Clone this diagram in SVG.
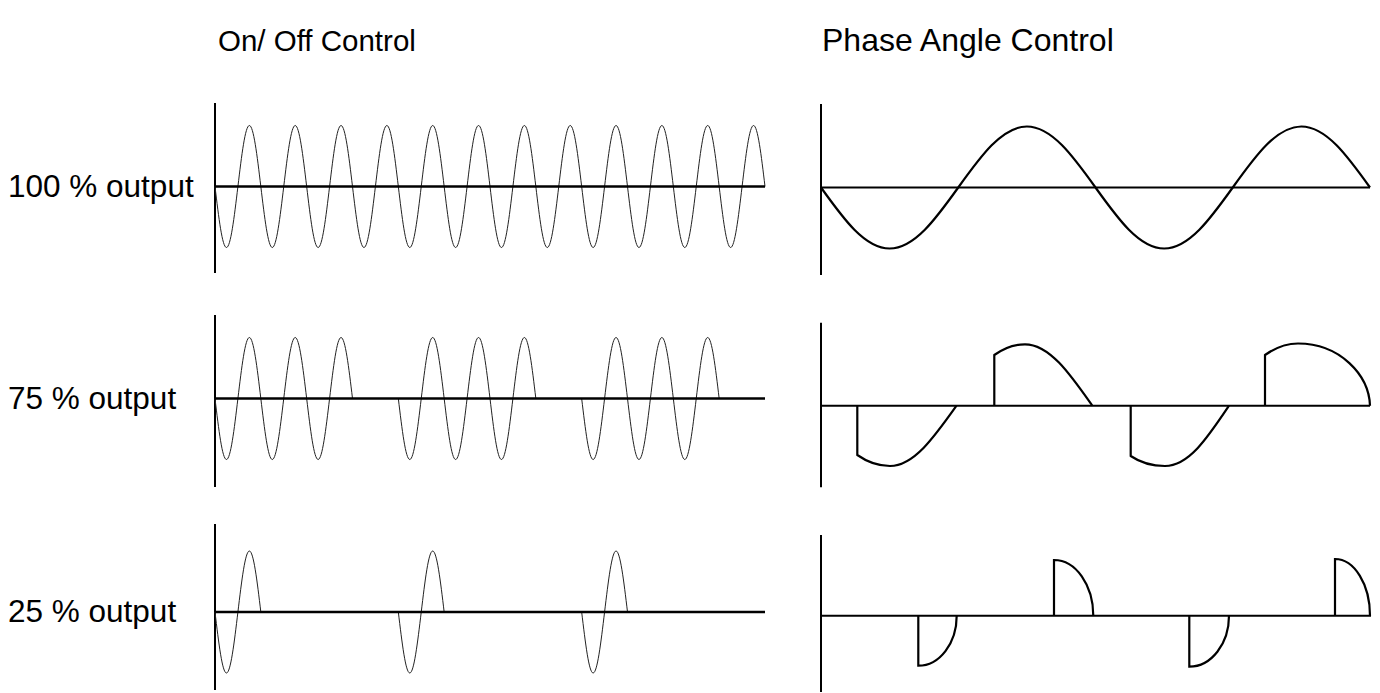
<svg xmlns="http://www.w3.org/2000/svg" xmlns:xlink="http://www.w3.org/1999/xlink" width="1380" height="693" viewBox="0 0 1380 693">
<style>
  .lbl { font-family: "Liberation Sans", Arial, sans-serif; font-size: 31.5px; fill: #000; }
  .axis { stroke: #000; stroke-width: 2; fill: none; }
  .base { stroke: #000; stroke-width: 2.5; fill: none; }
  .thin { stroke: #222; stroke-width: 1; fill: none; }
  .wave { stroke: #000; stroke-width: 2.2; fill: none; stroke-linejoin: miter; }
</style>
<defs>
  <path id="cyc" d="M0,0 c3.737,31.25 7.311,61 11.458,61 c4.147,0 7.722,-29.75 11.458,-61 c3.737,-31.25 7.311,-61 11.458,-61 c4.147,0 7.722,29.75 11.458,61"/>
</defs>
<rect width="1380" height="693" fill="#fff"/>

<g id="titles">
  <text class="lbl" x="218" y="51" style="font-size:29.5px">On/ Off Control</text>
  <text class="lbl" x="822" y="51" style="font-size:32px">Phase Angle Control</text>
</g>
<g id="row-labels">
  <text class="lbl" x="8" y="197">100 % output</text>
  <text class="lbl" x="8" y="409">75 % output</text>
  <text class="lbl" x="8" y="622">25 % output</text>
</g>

<g id="onoff-100">
  <line class="axis" x1="215" y1="103" x2="215" y2="273"/>
  <g class="thin">
    <use xlink:href="#cyc" href="#cyc" x="215" y="186.5"/>
    <use xlink:href="#cyc" href="#cyc" x="260.83" y="186.5"/>
    <use xlink:href="#cyc" href="#cyc" x="306.67" y="186.5"/>
    <use xlink:href="#cyc" href="#cyc" x="352.5" y="186.5"/>
    <use xlink:href="#cyc" href="#cyc" x="398.33" y="186.5"/>
    <use xlink:href="#cyc" href="#cyc" x="444.17" y="186.5"/>
    <use xlink:href="#cyc" href="#cyc" x="490" y="186.5"/>
    <use xlink:href="#cyc" href="#cyc" x="535.83" y="186.5"/>
    <use xlink:href="#cyc" href="#cyc" x="581.67" y="186.5"/>
    <use xlink:href="#cyc" href="#cyc" x="627.5" y="186.5"/>
    <use xlink:href="#cyc" href="#cyc" x="673.33" y="186.5"/>
    <use xlink:href="#cyc" href="#cyc" x="719.17" y="186.5"/>
  </g>
  <line class="base" x1="215" y1="186.5" x2="765" y2="186.5"/>
</g>

<g id="onoff-75">
  <line class="axis" x1="215" y1="315" x2="215" y2="487"/>
  <g class="thin">
    <use xlink:href="#cyc" href="#cyc" x="215" y="398.5"/>
    <use xlink:href="#cyc" href="#cyc" x="260.83" y="398.5"/>
    <use xlink:href="#cyc" href="#cyc" x="306.67" y="398.5"/>
    <use xlink:href="#cyc" href="#cyc" x="398.33" y="398.5"/>
    <use xlink:href="#cyc" href="#cyc" x="444.17" y="398.5"/>
    <use xlink:href="#cyc" href="#cyc" x="490" y="398.5"/>
    <use xlink:href="#cyc" href="#cyc" x="581.67" y="398.5"/>
    <use xlink:href="#cyc" href="#cyc" x="627.5" y="398.5"/>
    <use xlink:href="#cyc" href="#cyc" x="673.33" y="398.5"/>
  </g>
  <line class="base" x1="215" y1="398.5" x2="765" y2="398.5"/>
</g>

<g id="onoff-25">
  <line class="axis" x1="215" y1="524" x2="215" y2="690"/>
  <g class="thin">
    <use xlink:href="#cyc" href="#cyc" x="215" y="612"/>
    <use xlink:href="#cyc" href="#cyc" x="398.33" y="612"/>
    <use xlink:href="#cyc" href="#cyc" x="581.67" y="612"/>
  </g>
  <line class="base" x1="215" y1="612" x2="765" y2="612"/>
</g>

<g id="phase-100">
  <line class="axis" x1="821" y1="104" x2="821" y2="275"/>
  <line class="axis" x1="821" y1="187.5" x2="1370" y2="187.5"/>
  <path class="wave" d="M821,187.5 c22.378,31.25 43.79,61 68.625,61 c24.835,0 46.247,-29.75 68.625,-61 c22.378,-31.25 43.79,-61 68.625,-61 c24.835,0 46.247,29.75 68.625,61 c22.378,31.25 43.79,61 68.625,61 c24.835,0 46.247,-29.75 68.625,-61 c22.378,-31.25 43.79,-61 68.625,-61 c24.835,0 46.247,29.75 68.625,61"/>
</g>

<g id="phase-75">
  <line class="axis" x1="821" y1="322.7" x2="821" y2="487.3"/>
  <line class="axis" x1="821" y1="405.7" x2="1370" y2="405.7"/>
  <path class="wave" d="M857.3,405.7 V455 C868,462.5 879,466 890,466 C914,466 934.8,436.3 956.5,405.7"/>
  <path class="wave" d="M994.3,405.7 V355 C1004,348 1014,344.3 1025,344.3 C1049.5,344.3 1070,374 1092.3,405.7"/>
  <path class="wave" d="M1130.7,405.7 V456 C1141,463 1152,466 1165,466 C1189,466 1208,437 1229,405.7"/>
  <path class="wave" d="M1265,405.7 V355 C1275,348 1286,343.5 1298,343.5 C1340,343.5 1369,375 1370,405.7"/>
</g>

<g id="phase-25">
  <line class="axis" x1="821" y1="535" x2="821" y2="692"/>
  <line class="axis" x1="821" y1="615.7" x2="1371" y2="615.7"/>
  <path class="wave" d="M918.3,615.7 V665.7 A38.4,50 0 0 0 956.7,615.7"/>
  <path class="wave" d="M1054,615.7 V560 A39.3,55.7 0 0 1 1093.3,615.7"/>
  <path class="wave" d="M1189.3,615.7 V666.7 A39.7,51 0 0 0 1229,615.7"/>
  <path class="wave" d="M1335,615.7 V559 A35,56.7 0 0 1 1370,615.7"/>
</g>
</svg>
